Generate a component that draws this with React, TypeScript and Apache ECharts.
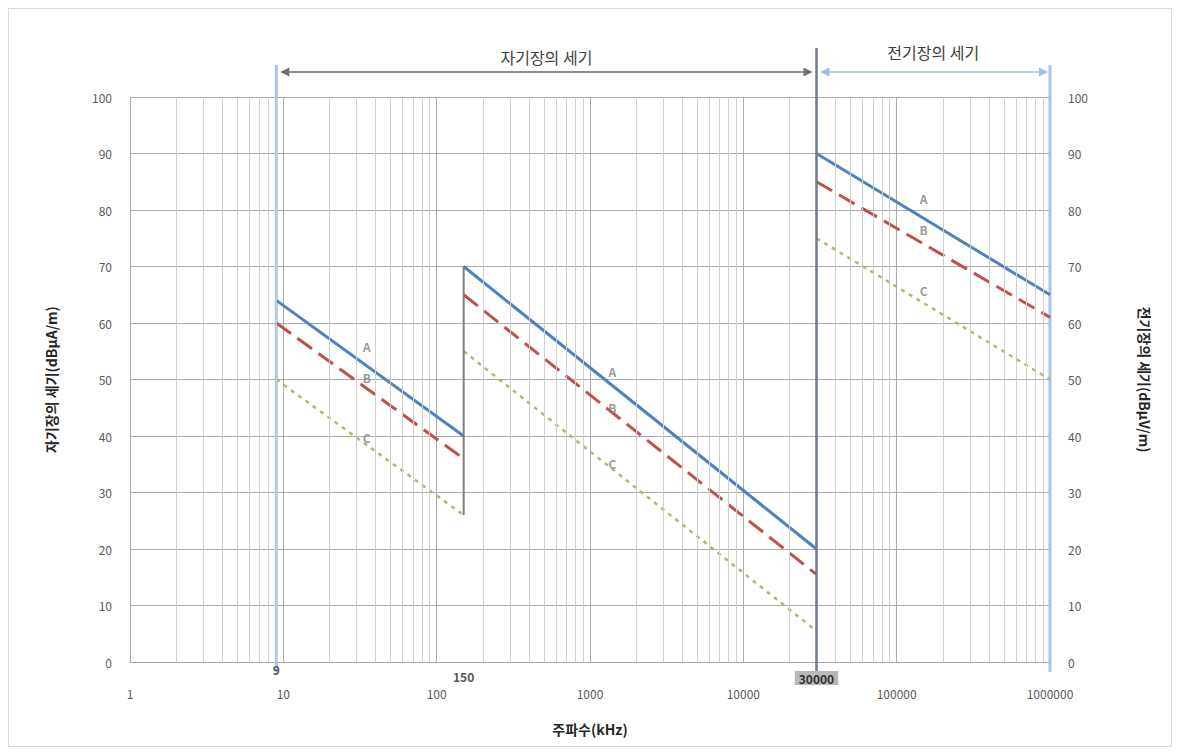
import React, { useEffect, useRef } from "react";
import * as echarts from "echarts";

// ---- data ----
const bandEdges = [9, 150, 30000, 1000000]; // kHz
const valuesA = [
  [64, 40],
  [70, 20],
  [90, 65],
];
const valuesB = [
  [60, 36],
  [65, 15.5],
  [85, 61],
];
const valuesC = [
  [50, 26],
  [55, 5.5],
  [75, 50],
];
const labelFreq = [35, 1400, 150000];
const labelA = [55.8, 51.4, 82.1];
const labelB = [50.3, 45.1, 76.5];
const labelC = [39.8, 35.2, 65.8];
const markerFreq = [9, 150, 30000];
const markerText = ["9", "150", "30000"];
const xTickLabels = ["1", "10", "100", "1000", "10000", "100000", "1000000"];
const topTitles = ["자기장의 세기", "전기장의 세기"];

const FONT = "'Noto Sans CJK KR', 'Noto Sans', sans-serif";
const COLOR_A = "#4f81bd";
const COLOR_B = "#c0504d";
const COLOR_C = "#b3b86a";

function segData(vals: number[][]) {
  const out: any[] = [];
  vals.forEach((pair, i) => {
    if (i > 0) out.push([bandEdges[i], "-"]);
    out.push([bandEdges[i], pair[0]]);
    out.push([bandEdges[i + 1], pair[1]]);
  });
  return out;
}

function minorValues() {
  const out: { xAxis: number }[] = [];
  for (let d = 0; d < 6; d++) {
    for (let m = 2; m <= 9; m++) out.push({ xAxis: m * Math.pow(10, d) });
  }
  return out;
}

export default function App() {
  const ref = useRef<HTMLDivElement>(null);

  useEffect(() => {
    if (!ref.current) return;
    const chart = echarts.init(ref.current, undefined, { renderer: "svg" });

    const letterData = (vals: number[], name: string) =>
      vals.map((v, i) => ({ value: [labelFreq[i], v], name }));

    const option: any = {
      animation: false,
      textStyle: { fontFamily: FONT },
      grid: { left: 121, right: 121, top: 88, bottom: 84 },
      xAxis: {
        type: "log",
        logBase: 10,
        min: 1,
        max: 1000000,
        name: "주파수(kHz)",
        nameLocation: "middle",
        nameGap: 60,
        nameTextStyle: { fontFamily: FONT, fontSize: 14, color: "#262626", fontWeight: "bold" },
        axisLine: { show: true, lineStyle: { color: "#a8a8a8", width: 1 } },
        axisTick: { show: false },
        axisLabel: {
          margin: 25,
          fontSize: 12,
          color: "#595959",
          fontFamily: FONT,
          formatter: (v: number) => {
            const idx = Math.round(Math.log10(v));
            return xTickLabels[idx] ?? String(v);
          },
        },
        splitLine: { show: true, lineStyle: { color: "#ababab", width: 1 } },
      },
      yAxis: [
        {
          type: "value",
          min: 0,
          max: 100,
          interval: 10,
          position: "left",
          name: "자기장의 세기(dBμA/m)",
          nameLocation: "middle",
          nameGap: 72,
          nameRotate: 90,
          nameTextStyle: { fontFamily: FONT, fontSize: 14, color: "#262626", fontWeight: "bold" },
          axisLine: { show: false },
          axisTick: { show: false },
          axisLabel: { margin: 18, fontSize: 12, color: "#595959", fontFamily: FONT },
          splitLine: { show: true, lineStyle: { color: "#ababab", width: 1 } },
        },
        {
          type: "value",
          min: 0,
          max: 100,
          interval: 10,
          position: "right",
          name: "전기장의 세기(dBμV/m)",
          nameLocation: "middle",
          nameGap: 88,
          nameRotate: -90,
          nameTextStyle: { fontFamily: FONT, fontSize: 14, color: "#262626", fontWeight: "bold" },
          axisLine: { show: false },
          axisTick: { show: false },
          axisLabel: { margin: 18, fontSize: 12, color: "#595959", fontFamily: FONT },
          splitLine: { show: false },
        },
      ],
      series: [
        {
          name: "minorGrid",
          type: "line",
          data: [],
          z: 0,
          silent: true,
          markLine: {
            silent: true,
            symbol: ["none", "none"],
            label: { show: false },
            emphasis: { disabled: true },
            lineStyle: { color: "#cfcfcf", width: 1, type: "solid" },
            data: minorValues(),
          },
        },
        {
          name: "A",
          type: "line",
          data: segData(valuesA),
          showSymbol: false,
          symbol: "none",
          z: 4,
          lineStyle: { color: COLOR_A, width: 3, type: "solid" },
          itemStyle: { color: COLOR_A },
        },
        {
          name: "B",
          type: "line",
          data: segData(valuesB),
          showSymbol: false,
          symbol: "none",
          z: 3,
          lineStyle: { color: COLOR_B, width: 3, type: [18, 8] },
          itemStyle: { color: COLOR_B },
        },
        {
          name: "C",
          type: "line",
          data: segData(valuesC),
          showSymbol: false,
          symbol: "none",
          z: 3,
          lineStyle: { color: COLOR_C, width: 2.5, type: [4, 5] },
          itemStyle: { color: COLOR_C },
        },
        {
          name: "jump150",
          type: "line",
          data: [
            [bandEdges[1], valuesC[0][1]],
            [bandEdges[1], valuesA[1][0]],
          ],
          showSymbol: false,
          symbol: "none",
          z: 5,
          lineStyle: { color: "#7f7f7f", width: 2 },
        },
        {
          name: "letters",
          type: "scatter",
          symbolSize: 0,
          z: 6,
          data: [
            ...letterData(labelA, "A"),
            ...letterData(labelB, "B"),
            ...letterData(labelC, "C"),
          ],
          label: {
            show: true,
            position: "inside",
            formatter: "{b}",
            fontSize: 12,
            fontWeight: "bold",
            color: "#7f7f7f",
            fontFamily: FONT,
          },
        },
      ],
    };

    chart.setOption(option);

    const px = (f: number) => chart.convertToPixel({ gridIndex: 0 }, [f, 1])[0] as number;
    const py = (v: number) => chart.convertToPixel({ gridIndex: 0 }, [1, v])[1] as number;
    const y100 = py(100);
    const y0 = py(0);
    const x9 = px(bandEdges[0]);
    const x30k = px(bandEdges[2]);
    const x1g = px(bandEdges[3]);
    const arrowY = y100 - 25;

    const arrowHead = (x: number, y: number, dir: number, color: string) => ({
      type: "polygon",
      shape: { points: [[x, y], [x - dir * 9, y - 4.5], [x - dir * 9, y + 4.5]] },
      style: { fill: color },
      z: 10,
    });

    const graphics: any[] = [
      {
        type: "line",
        shape: { x1: x9, y1: y100 - 32, x2: x9, y2: y0 + 10 },
        style: { stroke: "#a9c4e4", lineWidth: 3 },
        z: 1,
      },
      {
        type: "line",
        shape: { x1: x1g, y1: y100 - 32, x2: x1g, y2: y0 + 10 },
        style: { stroke: "#a9c4e4", lineWidth: 3 },
        z: 1,
      },
      {
        type: "line",
        shape: { x1: x30k, y1: y100 - 49, x2: x30k, y2: y0 + 18 },
        style: { stroke: "#6b7b8c", lineWidth: 2.5 },
        z: 10,
      },
      {
        type: "line",
        shape: { x1: x9 + 6, y1: arrowY, x2: x30k - 6, y2: arrowY },
        style: { stroke: "#8c8c8c", lineWidth: 2 },
        z: 10,
      },
      arrowHead(x9 + 4, arrowY, -1, "#707070"),
      arrowHead(x30k - 4, arrowY, 1, "#707070"),
      {
        type: "line",
        shape: { x1: x30k + 6, y1: arrowY, x2: x1g - 4, y2: arrowY },
        style: { stroke: "#9dbde4", lineWidth: 1.5 },
        z: 10,
      },
      arrowHead(x30k + 4, arrowY, -1, "#9dbde4"),
      arrowHead(x1g - 2, arrowY, 1, "#9dbde4"),
      {
        type: "text",
        x: (x9 + x30k) / 2,
        y: y100 - 40,
        style: {
          text: topTitles[0],
          fontFamily: FONT,
          fontSize: 16,
          fill: "#404040",
          align: "center",
          verticalAlign: "middle",
        },
        z: 10,
      },
      {
        type: "text",
        x: (x30k + x1g) / 2,
        y: y100 - 45,
        style: {
          text: topTitles[1],
          fontFamily: FONT,
          fontSize: 16,
          fill: "#404040",
          align: "center",
          verticalAlign: "middle",
        },
        z: 10,
      },
    ];

    const markerOffsets = [7, 14, 16];
    markerFreq.forEach((f, i) => {
      const isBox = i === 2;
      graphics.push({
        type: "text",
        x: px(f),
        y: y0 + markerOffsets[i],
        style: {
          text: markerText[i],
          fontFamily: FONT,
          fontSize: 12,
          fontWeight: "bold",
          fill: isBox ? "#333333" : "#555555",
          align: "center",
          verticalAlign: "middle",
          backgroundColor: isBox ? "#b8b8b8" : undefined,
          padding: isBox ? [1, 4] : 0,
        },
        z: 11,
      });
    });

    chart.setOption({ graphic: graphics });

    return () => {
      chart.dispose();
    };
  }, []);

  return (
    <div
      style={{
        width: 1164,
        height: 739,
        border: "1px solid #d9d9d9",
        boxSizing: "border-box",
        position: "relative",
        background: "#ffffff",
      }}
    >
      <div ref={ref} style={{ position: "absolute", left: 0, top: 0, width: 1162, height: 737 }} />
    </div>
  );
}
